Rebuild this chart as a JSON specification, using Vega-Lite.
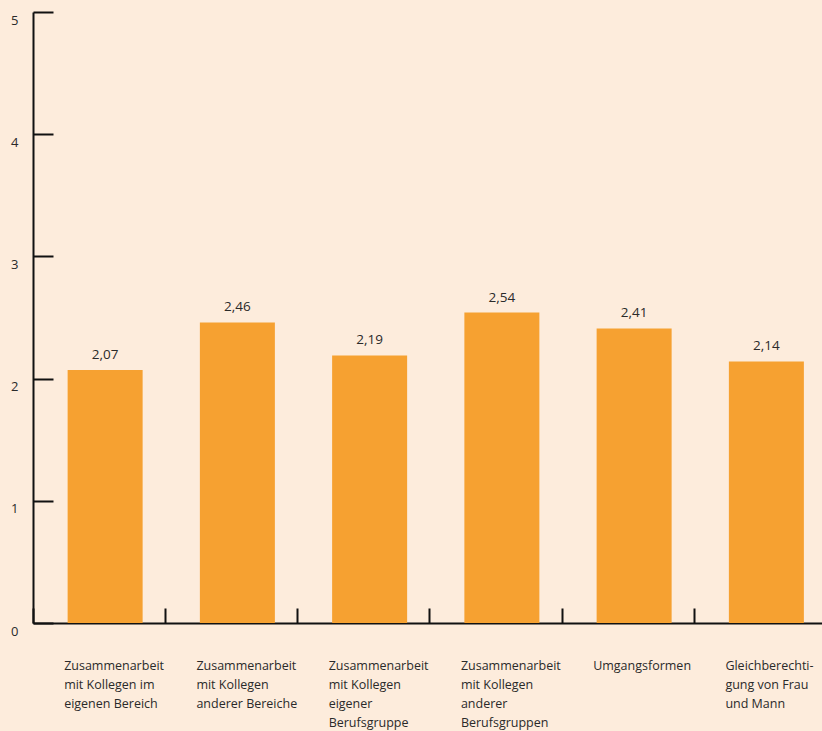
{
  "$schema": "https://vega.github.io/schema/vega-lite/v6.json",
  "width": 789,
  "height": 611,
  "autosize": {"type": "none"},
  "padding": {"left": 33, "top": 12, "right": 0, "bottom": 108},
  "background": "#fdecdc",
  "config": {
    "view": {"stroke": null},
    "font": "Open Sans",
    "locale": {"number": {"decimal": ",", "thousands": ".", "grouping": [3], "currency": ["", " €"]}}
  },
  "data": {
    "values": [
      {"kategorie": "Zusammenarbeit|mit Kollegen im|eigenen Bereich", "wert": 2.07},
      {"kategorie": "Zusammenarbeit|mit Kollegen|anderer Bereiche", "wert": 2.46},
      {"kategorie": "Zusammenarbeit|mit Kollegen|eigener|Berufsgruppe", "wert": 2.19},
      {"kategorie": "Zusammenarbeit|mit Kollegen|anderer|Berufsgruppen", "wert": 2.54},
      {"kategorie": "Umgangsformen", "wert": 2.41},
      {"kategorie": "Gleichberechti-|gung von Frau|und Mann", "wert": 2.14}
    ]
  },
  "encoding": {
    "x": {
      "field": "kategorie",
      "type": "nominal",
      "sort": null,
      "scale": {"range": [0, 793.5], "paddingInner": 0, "paddingOuter": 0},
      "axis": {
        "title": null,
        "bandPosition": 0,
        "labelAngle": 0,
        "labelAlign": "left",
        "labelBaseline": "top",
        "labelOffset": -35,
        "labelPadding": 51,
        "labelExpr": "split(datum.label, '|')",
        "labelLineHeight": 19,
        "labelFontSize": 12.5,
        "labelColor": "#2a2a2a",
        "labelLimit": 0,
        "tickSize": -15,
        "tickWidth": 2,
        "tickColor": "#111",
        "domainColor": "#111",
        "domainWidth": 2
      }
    }
  },
  "layer": [
    {
      "mark": {"type": "bar", "width": 75, "xOffset": 6, "color": "#f6a131"},
      "encoding": {
        "y": {
          "field": "wert",
          "type": "quantitative",
          "scale": {"domain": [0, 5], "nice": false},
          "axis": {
            "title": null,
            "values": [0, 1, 2, 3, 4, 5],
            "grid": false,
            "format": "d",
            "domainColor": "#111",
            "domainWidth": 2,
            "tickColor": "#111",
            "tickWidth": 2,
            "tickSize": -20,
            "labelPadding": 35,
            "labelOffset": 8,
            "labelFontSize": 13,
            "labelColor": "#2a2a2a"
          }
        }
      }
    },
    {
      "mark": {"type": "text", "baseline": "bottom", "dy": -8, "xOffset": 6, "fontSize": 13.5, "color": "#2a2a2a"},
      "encoding": {
        "y": {"field": "wert", "type": "quantitative"},
        "text": {"field": "wert", "type": "quantitative", "format": ".2f"}
      }
    }
  ]
}
